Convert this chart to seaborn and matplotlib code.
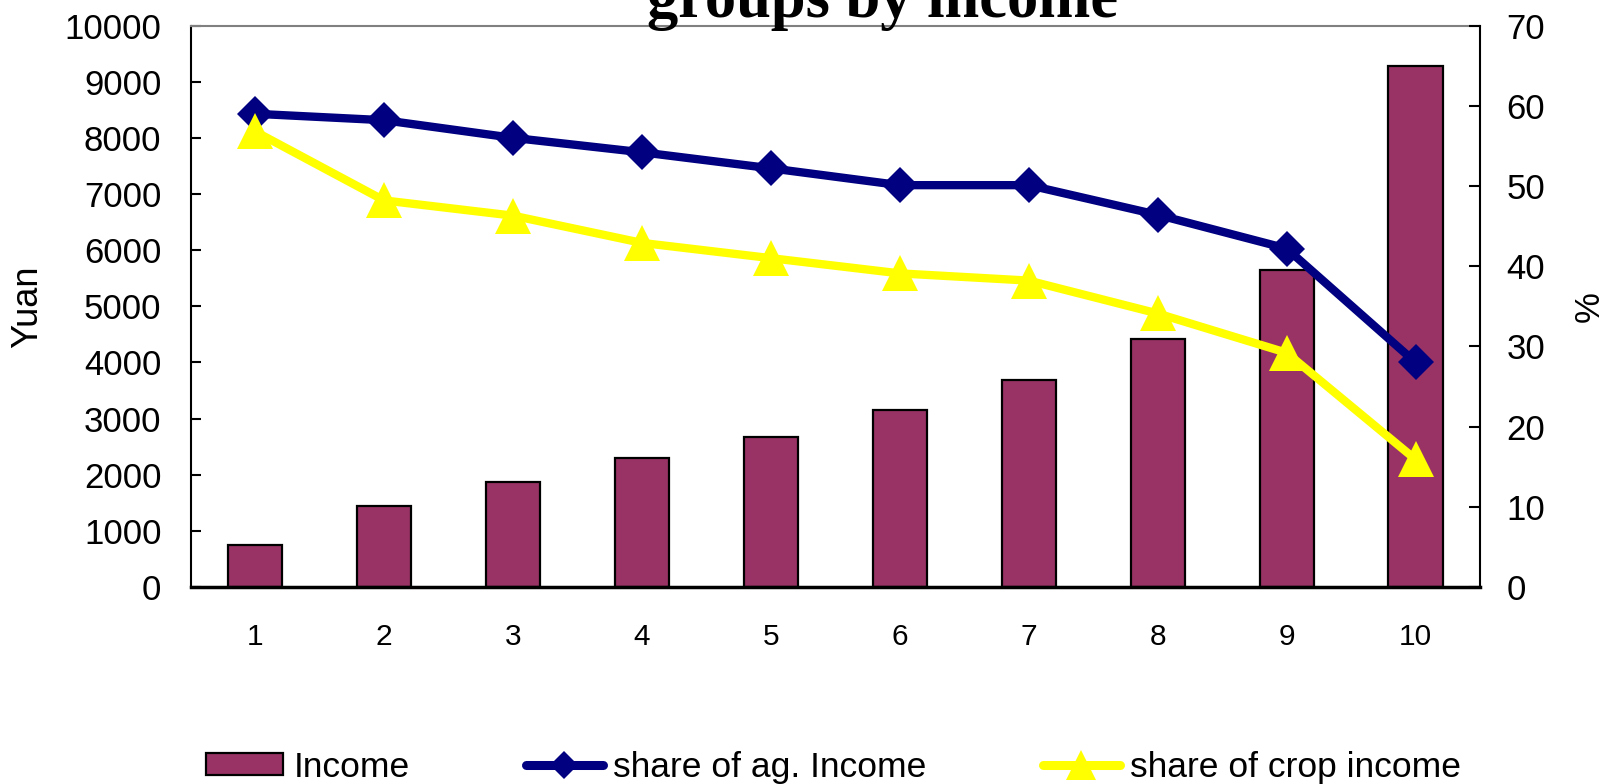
import matplotlib
matplotlib.use("Agg")
import matplotlib.pyplot as plt
from matplotlib.patches import Patch
from matplotlib.lines import Line2D
import numpy as np
import pandas as pd
import seaborn as sns

# ---- data ----
groups = ["1", "2", "3", "4", "5", "6", "7", "8", "9", "10"]
income = [750, 1440, 1875, 2295, 2680, 3155, 3680, 4425, 5645, 9285]
share_ag = [59.0, 58.2, 56.0, 54.2, 52.2, 50.1, 50.1, 46.4, 42.2, 28.0]
share_crop = [56.8, 48.2, 46.3, 42.9, 41.0, 39.1, 38.2, 34.1, 29.2, 15.9]
left_ticks = list(range(0, 10001, 1000))
right_ticks = list(range(0, 71, 10))
title_text = "groups by income"
legend_labels = ["Income", "share of ag. Income", "share of crop income"]

BAR_C = "#993366"
BLUE = "#000080"
YELLOW = "#FFFF00"

sns.set_style("white")
plt.rcParams["font.family"] = ["Liberation Sans", "DejaVu Sans"]
plt.rcParams["text.color"] = "black"
plt.rcParams["axes.labelcolor"] = "black"
plt.rcParams["xtick.color"] = "black"
plt.rcParams["ytick.color"] = "black"

df = pd.DataFrame({"group": groups, "income": income,
                   "ag": share_ag, "crop": share_crop})

fig = plt.figure(figsize=(16.07, 7.84), dpi=100)
ax = fig.add_axes([0.1186, 0.2513, 0.8024, 0.7161])
ax2 = ax.twinx()

sns.barplot(data=df, x="group", y="income", ax=ax, color=BAR_C,
            width=0.42, edgecolor="black", linewidth=1.6, saturation=1)

sns.pointplot(data=df, x="group", y="ag", ax=ax2, color=BLUE,
              markers="D", linestyles="-", errorbar=None,
              markersize=18, linewidth=6, markeredgewidth=0)
sns.pointplot(data=df, x="group", y="crop", ax=ax2, color=YELLOW,
              markers="^", linestyles="-", errorbar=None,
              markersize=26, linewidth=6, markeredgewidth=0)

# y axes
ax.set_ylim(0, 10000)
ax.set_yticks(left_ticks)
ax.set_yticklabels([str(t) for t in left_ticks])
ax2.set_ylim(0, 70)
ax2.set_yticks(right_ticks)
ax2.set_yticklabels([str(t) for t in right_ticks])
ax.set_ylabel("Yuan", fontsize=26, labelpad=14)
ax2.set_ylabel("%", fontsize=25, labelpad=20)

# x axis: ticks between categories, labels at centres
ax.set_xlim(-0.5, 9.5)
ax.set_xticks(np.arange(0.5, 9.0, 1.0))
ax.set_xticklabels([])
ax.set_xticks(np.arange(len(groups)), minor=True)
ax.set_xticklabels(groups, minor=True)
ax.set_xlabel("")
ax2.set_xlabel("")

ax.tick_params(axis="x", which="major", direction="in", length=5.5,
               width=1.5, color="black")
ax.tick_params(axis="x", which="minor", length=0, pad=26, labelsize=21.5)
ax.tick_params(axis="y", direction="in", length=7, width=1.5,
               pad=21, labelsize=25, left=True)
ax2.tick_params(axis="y", direction="in", length=8, width=1.5,
                pad=19, labelsize=25, right=True)

# spines
for s in ["left", "bottom"]:
    ax2.spines[s].set_visible(False)
ax.spines["right"].set_visible(False)
ax2.spines["top"].set_visible(False)
ax.spines["top"].set_color("#808080")
ax.spines["top"].set_linewidth(1.5)
ax.spines["left"].set_color("black")
ax.spines["left"].set_linewidth(1.5)
ax.spines["bottom"].set_color("black")
ax.spines["bottom"].set_linewidth(2.5)
ax2.spines["right"].set_color("black")
ax2.spines["right"].set_linewidth(1.5)
ax.grid(False)
ax2.grid(False)

# title (top line cut off in reference)
fig.text(0.5495, 0.9787, title_text, ha="center", va="baseline",
         fontsize=45, fontweight="bold", family="Liberation Serif",
         color="black")

# legend
handles = [
    Patch(facecolor=BAR_C, edgecolor="black", linewidth=1.6),
    Line2D([], [], color=BLUE, lw=6.5, marker="D", markersize=14,
           markeredgewidth=0),
    Line2D([], [], color=YELLOW, lw=6.5, marker="^", markersize=21,
           markeredgewidth=0),
]
fig.legend(handles, legend_labels, loc="center left",
           bbox_to_anchor=(0.1282, 0.0215), ncol=3, frameon=False,
           fontsize=25.5, handlelength=2.17, handletextpad=0.3,
           columnspacing=3.28, borderpad=0, borderaxespad=0,
           handleheight=0.6)

fig.savefig("out.png", dpi=100)
